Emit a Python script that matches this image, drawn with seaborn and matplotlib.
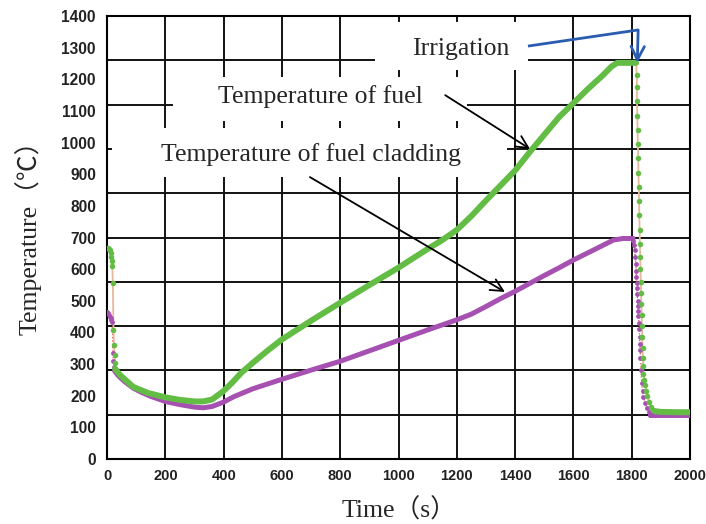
import numpy as np
import pandas as pd
import matplotlib
matplotlib.use("Agg")
import matplotlib.pyplot as plt
from matplotlib.patches import Rectangle
import seaborn as sns

# ---- data: fuel temperature (green) ----
fuel_start_t = [0, 3, 6, 9, 12, 14, 16, 18, 20, 22, 24, 26, 27, 28]
fuel_start_T = [668, 666, 664, 660, 650, 640, 625, 610, 555, 408, 360, 330, 305, 285]

fuel_t = [28, 45, 90, 140, 200, 250, 300, 330, 360, 400, 430, 460, 500, 550, 600,
          700, 800, 900, 1000, 1100, 1150, 1200, 1250, 1300, 1400, 1450, 1500, 1550,
          1600, 1650, 1700, 1730, 1750, 1780, 1815]
fuel_T = [285, 265, 228, 209, 195, 187, 182, 182, 188, 215, 242, 272, 304, 342, 378,
          437, 494, 550, 605, 664, 692, 724, 768, 817, 912, 970, 1025, 1080,
          1125, 1170, 1212, 1240, 1252, 1252, 1252]

fuel_drop_t = [1817, 1818, 1818, 1819, 1820, 1821, 1822, 1823, 1824, 1825, 1826, 1827,
               1828, 1829, 1830, 1831, 1832, 1833, 1834, 1835, 1836, 1837, 1838, 1839,
               1840, 1843, 1846, 1850, 1854, 1860, 1867, 1874, 1880]
fuel_drop_T = [1215, 1175, 1130, 1085, 1040, 995, 950, 905, 860, 815, 770, 725,
               680, 640, 600, 560, 525, 490, 455, 420, 385, 350, 320, 295,
               270, 250, 235, 215, 198, 180, 165, 156, 151]

fuel_end_t = [1880, 1900, 1950, 2000]
fuel_end_T = [151, 149, 148, 148]

# ---- data: fuel cladding temperature (purple) ----
clad_start_t = [0, 3, 6, 9, 12, 15, 18, 20, 22, 24]
clad_start_T = [465, 460, 455, 450, 445, 440, 433, 335, 310, 290]

clad_t = [26, 40, 60, 90, 120, 150, 200, 250, 300, 330, 360, 400, 435, 500, 600,
          700, 800, 900, 1000, 1100, 1200, 1250, 1300, 1350, 1400, 1450, 1500, 1550,
          1600, 1670, 1737, 1770, 1805]
clad_T = [278, 262, 245, 224, 210, 198, 182, 172, 164, 162, 166, 180, 197, 222, 252,
          281, 309, 342, 375, 408, 440, 458, 482, 507, 530, 555, 580, 604,
          629, 661, 692, 697, 697]

clad_drop_t = [1806, 1808, 1810, 1812, 1814, 1815, 1816, 1817, 1818, 1819, 1820, 1821,
               1822, 1823, 1825, 1826, 1827, 1828, 1829, 1830, 1832, 1834, 1837, 1840,
               1846, 1852, 1858, 1863]
clad_drop_T = [688, 675, 661, 640, 615, 595, 575, 556, 540, 520, 500, 485,
               468, 451, 430, 410, 385, 365, 345, 320, 280, 240, 215, 195,
               177, 160, 148, 140]

clad_end_t = [1863, 1900, 1950, 2000]
clad_end_T = [140, 140, 140, 140]

x_ticks = [0, 200, 400, 600, 800, 1000, 1200, 1400, 1600, 1800, 2000]
x_tick_labels = ["0", "200", "400", "600", "800", "1000", "1200", "1400", "1600", "1800", "2000"]
y_ticks = [0, 100, 200, 300, 400, 500, 600, 700, 800, 900, 1000, 1100, 1200, 1300, 1400]
y_tick_labels = [str(v) for v in y_ticks]

GREEN = "#63bd45"
PURPLE = "#a650b2"
TAN = "#e6b99c"
BLUE = "#2a5cb0"
SERIF = ["Liberation Serif", "Noto Sans CJK SC"]
TICK_FONT = dict(family="Liberation Sans", fontweight="bold", color="#222222")

sns.set_style("white")
plt.rcParams["font.family"] = ["DejaVu Sans"]

fig = plt.figure(figsize=(7.06, 5.24), dpi=100)
ax = fig.add_axes([0.1516, 0.124, 0.8258, 0.8454])
ax.set_xlim(0, 2000)
ax.set_ylim(0, 1400)

# grid: vertical at labelled x ticks, horizontal every 140 degrees
ax.set_xticks(x_ticks)
ax.set_xticklabels(x_tick_labels, fontsize=10.5, **TICK_FONT)
ax.set_yticks(y_ticks)
ax.set_yticklabels(y_tick_labels, fontsize=11.2, **TICK_FONT)
ax.set_xticks(np.arange(100, 2000, 200), minor=True)
ax.set_yticks(np.arange(50, 1400, 100), minor=True)
ax.grid(False)
ax.vlines(x_ticks[1:-1], 0, 1400, colors="#111111", lw=1.4, zorder=1)
ax.hlines(np.arange(140, 1400, 140), 0, 2000, colors="#111111", lw=1.4, zorder=1)

ax.tick_params(axis="both", which="major", direction="inout", length=6, width=1.5,
               color="k")
ax.tick_params(axis="both", which="minor", direction="inout", length=4.5, width=1.3,
               color="k")
ax.tick_params(axis="y", which="major", pad=5)
ax.tick_params(axis="x", which="major", pad=4)
for sp in ax.spines.values():
    sp.set_color("k")
    sp.set_linewidth(1.5)

# white panels behind the annotation texts
for (x0, y0, w, h) in [(919, 1229, 525, 152), (226, 1068, 1009, 139), (17, 891, 1355, 155)]:
    ax.add_patch(Rectangle((x0, y0), w, h, facecolor="white", edgecolor="none", zorder=1.5))

# ---- cladding series ----
clad_all = pd.DataFrame({"t": clad_start_t + clad_t + clad_drop_t + clad_end_t,
                         "T": clad_start_T + clad_T + clad_drop_T + clad_end_T})
sns.lineplot(data=clad_all, x="t", y="T", estimator=None, sort=False, ax=ax,
             color="#e04a4a", lw=0.9, ls=":", zorder=2)
sns.lineplot(data=pd.DataFrame({"t": clad_t, "T": clad_T}), x="t", y="T",
             estimator=None, sort=False, ax=ax, color=PURPLE, lw=3.6, zorder=3)
sns.lineplot(data=pd.DataFrame({"t": clad_end_t, "T": clad_end_T}), x="t", y="T",
             estimator=None, sort=False, ax=ax, color=PURPLE, lw=3.6, zorder=3)
sns.scatterplot(data=pd.DataFrame({"t": clad_start_t + clad_drop_t,
                                   "T": clad_start_T + clad_drop_T}),
                x="t", y="T", ax=ax, color=PURPLE, s=12, linewidth=0, zorder=3)

# ---- fuel series ----
fuel_all = pd.DataFrame({"t": fuel_start_t + fuel_t + fuel_drop_t + fuel_end_t,
                         "T": fuel_start_T + fuel_T + fuel_drop_T + fuel_end_T})
sns.lineplot(data=fuel_all, x="t", y="T", estimator=None, sort=False, ax=ax,
             color=TAN, lw=1.3, zorder=2.5)
sns.lineplot(data=pd.DataFrame({"t": fuel_t, "T": fuel_T}), x="t", y="T",
             estimator=None, sort=False, ax=ax, color=GREEN, lw=4.3, zorder=4)
sns.lineplot(data=pd.DataFrame({"t": fuel_end_t, "T": fuel_end_T}), x="t", y="T",
             estimator=None, sort=False, ax=ax, color=GREEN, lw=4.3, zorder=4)
sns.scatterplot(data=pd.DataFrame({"t": fuel_start_t + fuel_drop_t,
                                   "T": fuel_start_T + fuel_drop_T}),
                x="t", y="T", ax=ax, color=GREEN, s=16, linewidth=0, zorder=4)

# ---- annotations ----
ax.text(1214, 1277, "Irrigation", ha="center", va="baseline", fontsize=18.5,
        family=SERIF, zorder=6)
ax.text(732, 1126, "Temperature of fuel", ha="center", va="baseline", fontsize=18.5,
        family=SERIF, zorder=6)
ax.text(698, 943, "Temperature of fuel cladding", ha="center", va="baseline",
        fontsize=18.5, family=SERIF, zorder=6)

ax.annotate("", xy=(1451, 980), xytext=(1160, 1150),
            arrowprops=dict(arrowstyle="->", color="k", lw=1.3, mutation_scale=22,
                            shrinkA=0, shrinkB=0), zorder=6)
ax.annotate("", xy=(1365, 528), xytext=(696, 891),
            arrowprops=dict(arrowstyle="->", color="k", lw=1.3, mutation_scale=22,
                            shrinkA=0, shrinkB=0), zorder=6)
ax.plot([1444, 1822], [1305, 1356], color=BLUE, lw=2, zorder=6,
        solid_capstyle="butt")
ax.annotate("", xy=(1819, 1252), xytext=(1822, 1356),
            arrowprops=dict(arrowstyle="->", color=BLUE, lw=2, mutation_scale=24,
                            shrinkA=0, shrinkB=0), zorder=6)

ax.set_xlabel("Time（s）", fontsize=18.5, family=SERIF, va="center")
ax.xaxis.set_label_coords(0.5, -(510 - 459) / 443)
ax.set_ylabel("Temperature（℃）", fontsize=18.5, family=SERIF, va="center")
ax.yaxis.set_label_coords(-(107 - 28) / 583, 0.515)

fig.savefig("out.png", dpi=100)
